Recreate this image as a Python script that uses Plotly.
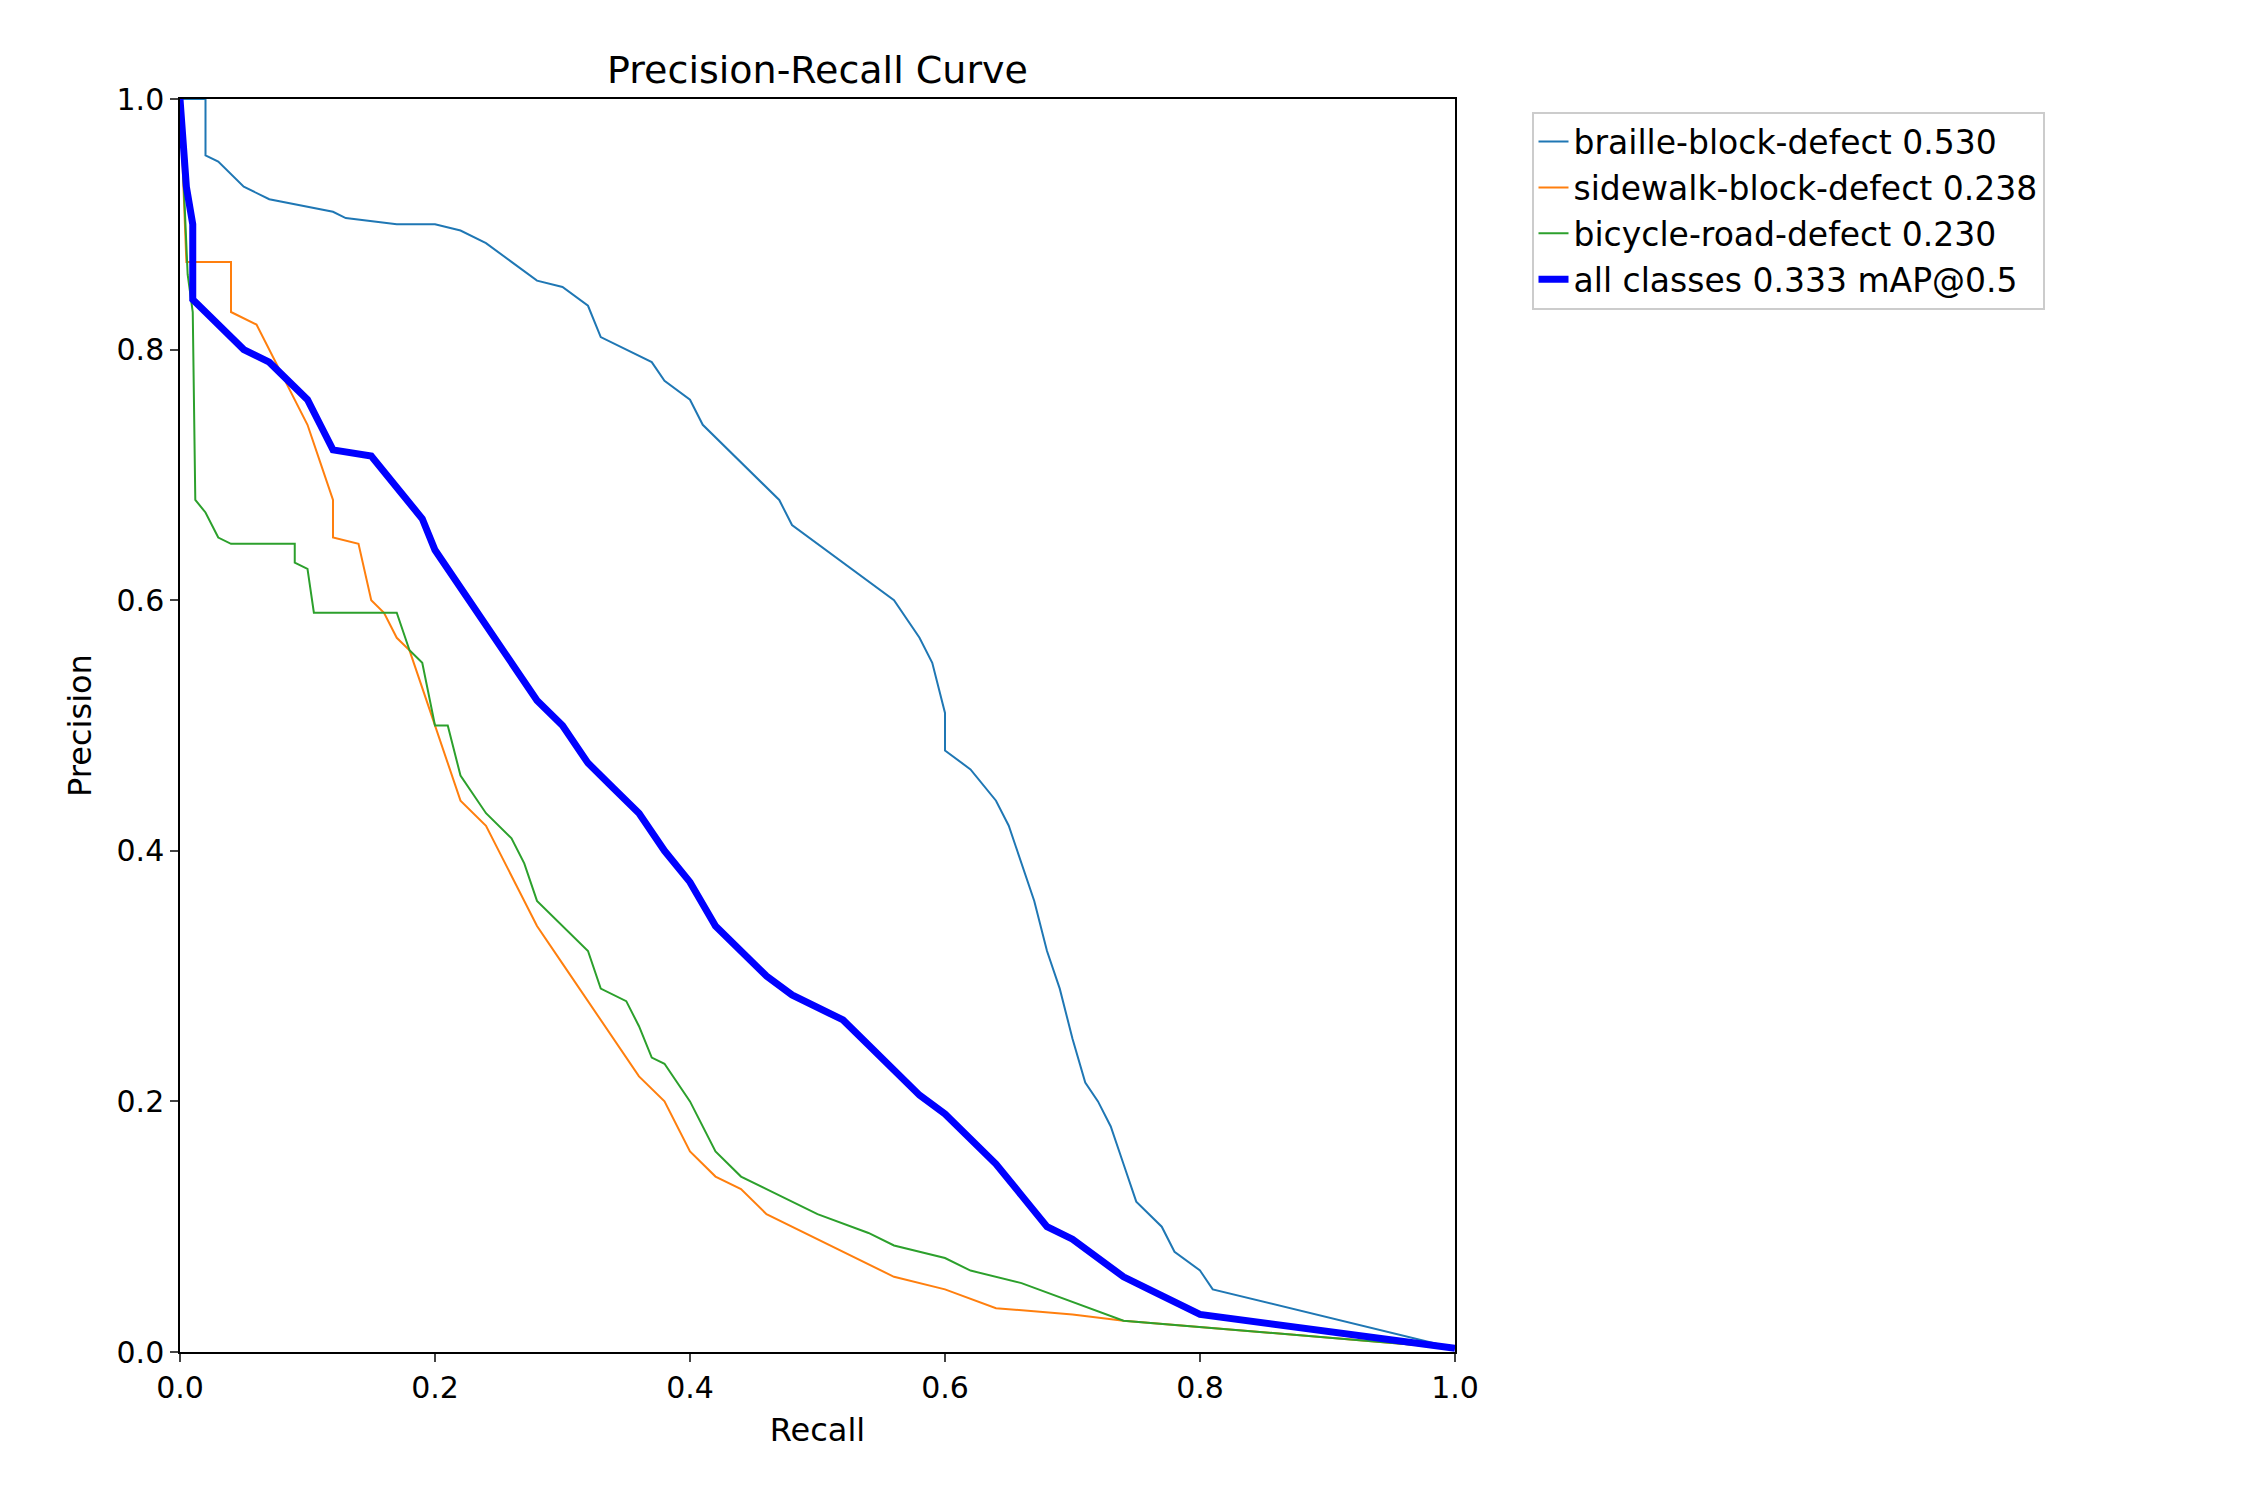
import plotly.graph_objects as go

braille_r = [0,0.02,0.02,0.03,0.05,0.07,0.12,0.13,0.17,0.2,0.22,0.24,0.26,0.28,0.3,0.32,0.33,0.35,0.37,0.38,0.4,0.41,0.42,0.44,0.45,0.47,0.48,0.5,0.52,0.54,0.56,0.58,0.59,0.6,0.6,0.62,0.64,0.65,0.66,0.67,0.68,0.69,0.7,0.71,0.72,0.73,0.74,0.75,0.77,0.78,0.8,0.81,1.0]
braille_p = [1,1,0.955,0.95,0.93,0.92,0.91,0.905,0.9,0.9,0.895,0.885,0.87,0.855,0.85,0.835,0.81,0.8,0.79,0.775,0.76,0.74,0.73,0.71,0.7,0.68,0.66,0.645,0.63,0.615,0.6,0.57,0.55,0.51,0.48,0.465,0.44,0.42,0.39,0.36,0.32,0.29,0.25,0.215,0.2,0.18,0.15,0.12,0.1,0.08,0.065,0.05,0.003]

sidewalk_r = [0,0.005,0.04,0.04,0.06,0.07,0.08,0.09,0.1,0.11,0.12,0.12,0.14,0.15,0.16,0.17,0.18,0.19,0.2,0.21,0.22,0.24,0.26,0.28,0.3,0.32,0.34,0.36,0.38,0.4,0.42,0.44,0.46,0.5,0.54,0.56,0.6,0.64,0.7,0.74,1.0]
sidewalk_p = [1,0.87,0.87,0.83,0.82,0.8,0.78,0.76,0.74,0.71,0.68,0.65,0.645,0.6,0.59,0.57,0.56,0.53,0.5,0.47,0.44,0.42,0.38,0.34,0.31,0.28,0.25,0.22,0.2,0.16,0.14,0.13,0.11,0.09,0.07,0.06,0.05,0.035,0.03,0.025,0.003]

bicycle_r = [0,0.006,0.01,0.012,0.02,0.03,0.04,0.09,0.09,0.1,0.105,0.17,0.18,0.19,0.2,0.21,0.22,0.24,0.26,0.27,0.28,0.3,0.32,0.33,0.35,0.36,0.37,0.38,0.4,0.42,0.44,0.46,0.5,0.54,0.56,0.6,0.62,0.66,0.7,0.74,1.0]
bicycle_p = [1,0.86,0.83,0.68,0.67,0.65,0.645,0.645,0.63,0.625,0.59,0.59,0.56,0.55,0.5,0.5,0.46,0.43,0.41,0.39,0.36,0.34,0.32,0.29,0.28,0.26,0.235,0.23,0.2,0.16,0.14,0.13,0.11,0.095,0.085,0.075,0.065,0.055,0.04,0.025,0.003]

all_r = [0,0.005,0.01,0.01,0.02,0.03,0.04,0.05,0.07,0.08,0.09,0.1,0.11,0.12,0.15,0.17,0.19,0.2,0.22,0.24,0.26,0.28,0.3,0.32,0.34,0.36,0.38,0.4,0.42,0.44,0.46,0.48,0.5,0.52,0.54,0.56,0.58,0.6,0.62,0.64,0.66,0.68,0.7,0.72,0.74,0.76,0.78,0.8,1.0]
all_p = [1,0.93,0.9,0.84,0.83,0.82,0.81,0.8,0.79,0.78,0.77,0.76,0.74,0.72,0.715,0.69,0.665,0.64,0.61,0.58,0.55,0.52,0.5,0.47,0.45,0.43,0.4,0.375,0.34,0.32,0.3,0.285,0.275,0.265,0.245,0.225,0.205,0.19,0.17,0.15,0.125,0.1,0.09,0.075,0.06,0.05,0.04,0.03,0.003]

fig = go.Figure()
fig.add_trace(go.Scatter(x=braille_r, y=braille_p, mode='lines', name='braille-block-defect 0.530', line=dict(color='#1f77b4', width=2)))
fig.add_trace(go.Scatter(x=sidewalk_r, y=sidewalk_p, mode='lines', name='sidewalk-block-defect 0.238', line=dict(color='#ff7f0e', width=2)))
fig.add_trace(go.Scatter(x=bicycle_r, y=bicycle_p, mode='lines', name='bicycle-road-defect 0.230', line=dict(color='#2ca02c', width=2)))
fig.add_trace(go.Scatter(x=all_r, y=all_p, mode='lines', name='all classes 0.333 mAP@0.5', line=dict(color='#0000ff', width=7)))

axis = dict(range=[0, 1], showgrid=False, zeroline=False, showline=True, mirror=True,
            linecolor='black', linewidth=1.5, ticks='outside', ticklen=8, tickwidth=1.5,
            tickvals=[0, 0.2, 0.4, 0.6, 0.8, 1.0], tickformat='.1f', tickfont=dict(size=30, color='black'))
fig.update_layout(
    width=2250, height=1500,
    margin=dict(l=172, r=803, t=91, b=156),
    paper_bgcolor='white', plot_bgcolor='white',
    font=dict(family='DejaVu Sans', size=30, color='black'),
    title=dict(text='Precision-Recall Curve', x=(172 + 1447) / 2 / 2250, xanchor='center', y=0.959, yanchor='middle', font=dict(size=38)),
    xaxis=dict(axis, title=dict(text='Recall', font=dict(size=32))),
    yaxis=dict(axis, title=dict(text='Precision', font=dict(size=32))),
    legend=dict(x=1.06, y=0.99, xanchor='left', yanchor='top', bordercolor='#cccccc', borderwidth=2,
                font=dict(size=33), tracegroupgap=0),
)
fig.write_html("out.html")
